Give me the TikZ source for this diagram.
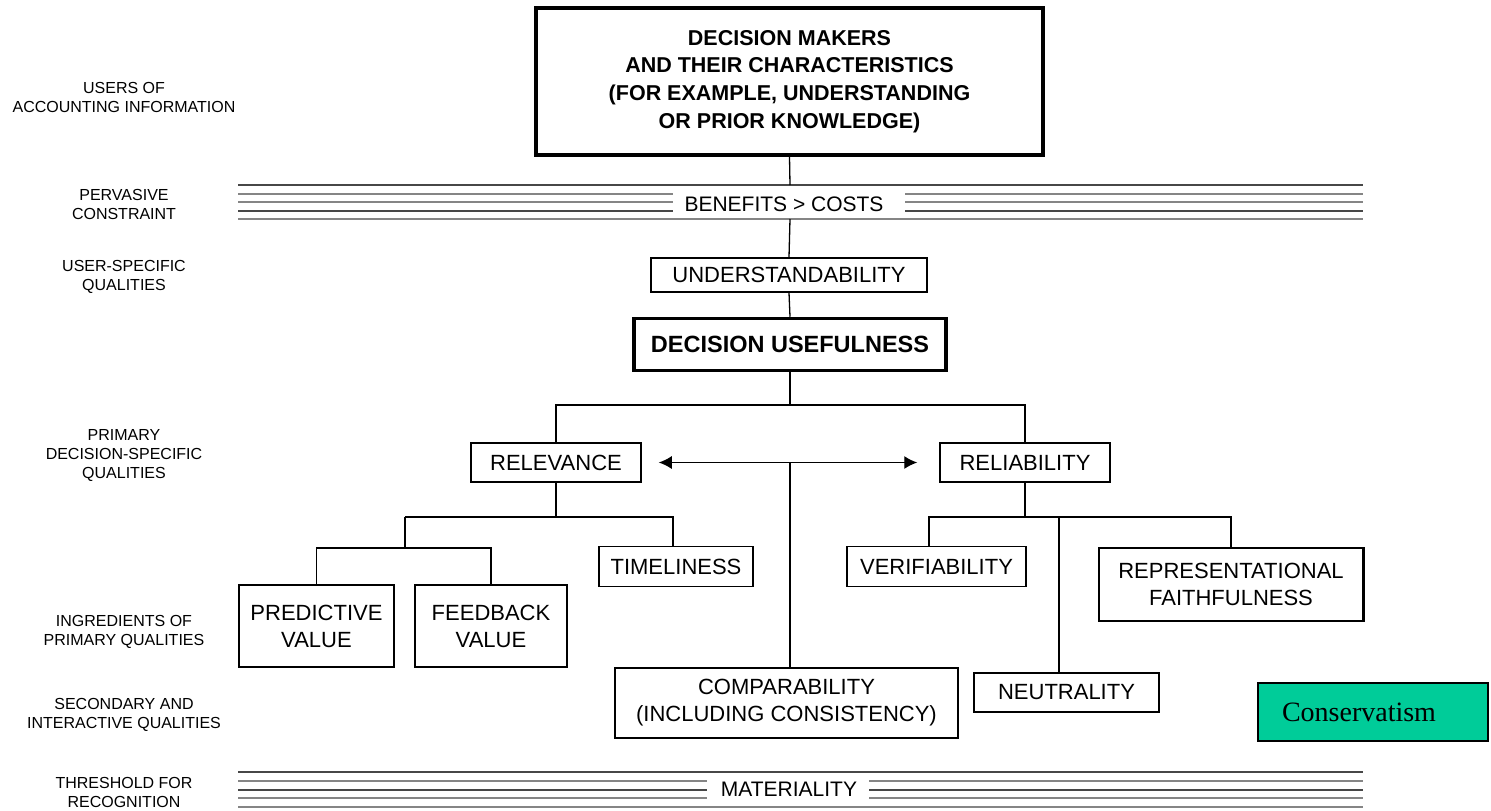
\documentclass[tikz,border=0pt]{standalone}
\usepackage{fontspec}
\setmainfont{Liberation Sans}
\newfontfamily\serifface{Liberation Serif}
\usetikzlibrary{arrows.meta}
\definecolor{consgreen}{RGB}{0,204,153}
\begin{document}
\begin{tikzpicture}[x=1pt,y=-1pt,
  box/.style={draw, line width=1.5pt, align=center, inner sep=0pt,
              font=\fontsize{22}{27}\selectfont},
  boldbox/.style={box, line width=3.5pt},
  sidelabel/.style={align=center, inner sep=0pt, font=\fontsize{16}{19}\selectfont},
  bandtext/.style={inner sep=0pt, font=\fontsize{21}{25}\selectfont},
  darkline/.style={line width=2pt, black!72},
  lightline/.style={line width=2pt, black!48},
  link/.style={line width=1.3pt},
  tip/.style={link, {Latex[length=13pt,width=13pt]}-{Latex[length=13pt,width=13pt]}},
]
\useasboundingbox (0,0) rectangle (1491,811);

% ---- level labels on the left
\node[sidelabel] (l1) at (124,97.5) {USERS OF\\ACCOUNTING INFORMATION};
\node[sidelabel] (l2) at (124,204) {PERVASIVE\\CONSTRAINT};
\node[sidelabel] (l3) at (124,277) {USER-SPECIFIC\\QUALITIES};
\node[sidelabel] (l4) at (124,456) {PRIMARY\\DECISION-SPECIFIC\\QUALITIES};
\node[sidelabel] (l5) at (124,631.5) {INGREDIENTS OF\\PRIMARY QUALITIES};
\node[sidelabel] (l6) at (124,715) {SECONDARY AND\\INTERACTIVE QUALITIES};
\node[sidelabel] (l7) at (124,792.5) {THRESHOLD FOR\\RECOGNITION};

% ---- boxes
\node[boldbox, minimum width=507pt, minimum height=147pt,
      font=\fontsize{21.5}{27.7}\selectfont\bfseries] (top) at (789.5,81.5)
  {DECISION MAKERS\\AND THEIR CHARACTERISTICS\\(FOR EXAMPLE, UNDERSTANDING\\OR PRIOR KNOWLEDGE)};
\node[box, minimum width=276pt, minimum height=34pt] (und) at (789,275) {UNDERSTANDABILITY};
\node[boldbox, minimum width=312pt, minimum height=52pt,
      font=\fontsize{23.5}{28}\selectfont\bfseries] (du) at (790,344.5) {DECISION USEFULNESS};
\node[box, minimum width=170pt, minimum height=39pt] (rel) at (556,462.5) {RELEVANCE};
\node[box, minimum width=170pt, minimum height=39pt] (reli) at (1025,462.5) {RELIABILITY};
\node[box, minimum width=154pt, minimum height=40pt] (time) at (676,566.5) {TIMELINESS};
\node[box, minimum width=155pt, minimum height=82pt] (pred) at (316.5,626) {PREDICTIVE\\VALUE};
\node[box, minimum width=152pt, minimum height=82pt] (feed) at (491,626) {FEEDBACK\\VALUE};
\node[box, minimum width=179pt, minimum height=40pt] (ver) at (936.5,566.5) {VERIFIABILITY};
\node[box, minimum width=264pt, minimum height=73pt] (rep) at (1231,584.5) {REPRESENTATIONAL\\FAITHFULNESS};
\draw[line width=3pt] (rep.north east) -- (rep.south east);
\node[box, minimum width=185pt, minimum height=39pt] (neut) at (1066.5,692.5) {NEUTRALITY};
\node[box, minimum width=343pt, minimum height=70pt] (comp) at (786.5,703) {COMPARABILITY\\(INCLUDING CONSISTENCY)};
\node[draw, line width=1.5pt, fill=consgreen, minimum height=58pt, text width=182pt,
      inner xsep=24pt, inner ysep=0pt, align=left,
      font=\serifface\fontsize{28}{32}\selectfont] (cons) at (1373,712) {Conservatism};

% ---- constraint bands
\node[bandtext] (ben) at (784,204) {BENEFITS > COSTS};
\draw[darkline] (238,185) -- (1363,185);
\draw[lightline] (238,219) -- (1363,219);
\foreach \y/\s in {193.5/lightline,202/lightline,210.5/darkline}
  \draw[\s] (238,\y) -- (673,\y) (905,\y) -- (1363,\y);

\node[bandtext] (mat) at (789,789.5) {MATERIALITY};
\draw[darkline] (238,772) -- (1363,772);
\draw[lightline] (238,807) -- (1363,807);
\foreach \y/\s in {780.75/lightline,789.5/darkline,798.25/lightline}
  \draw[\s] (238,\y) -- (707,\y) (869,\y) -- (1363,\y);

% ---- connectors
\coordinate (bt) at (790,185);
\coordinate (bb) at (790,219);
\draw[link] (top.south) -- (bt);
\draw[link] (bb) -- (und.north);
\draw[link] (und.south) -- (du.north);

\coordinate (j1) at (790,405);
\draw[link] (du.south) -- (j1);
\draw[link] (rel.north) |- (j1) -| (reli.north);

\draw[tip] ([xshift=17pt]rel.east) -- ([xshift=-22pt]reli.west);
\coordinate (am) at (790,463);
\draw[link] (am) -- (am |- comp.north);

% relevance ingredients
\coordinate (r1) at (405,517);
\coordinate (r2) at (405,548);
\coordinate (rt) at (673,517);
\draw[link] (rel.south) -- (rel.south |- r1);
\draw[link] (r1) -- (rt) -- (rt |- time.north);
\draw[link] (r1) -- (r2);
\draw[link] (pred.north) |- (r2) -| (feed.north);

% reliability ingredients
\coordinate (s1) at (1025,517);
\coordinate (sv) at (929,517);
\coordinate (nt) at (1059,517);
\draw[link] (reli.south) -- (s1);
\draw[link] (sv |- ver.north) -- (sv) -| (rep.north);
\draw[link] (nt) -- (nt |- neut.north);
\end{tikzpicture}
\end{document}
